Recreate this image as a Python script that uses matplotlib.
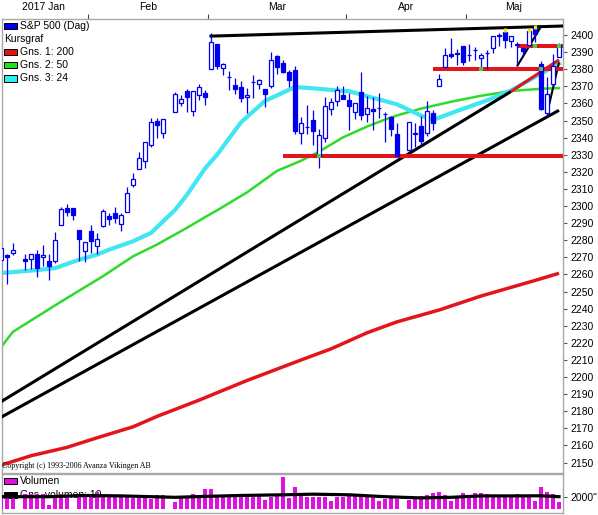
import numpy as np
import matplotlib
matplotlib.use("Agg")
import matplotlib.pyplot as plt
import matplotlib.transforms as mtransforms
from matplotlib.patches import Rectangle

plt.rcParams["font.family"] = ["Liberation Sans", "DejaVu Sans"]

# --- data: S&P 500 daily candles ---
jan_days = [11, 12, 13, 17, 18, 19, 20, 23, 24, 25, 26, 27, 30, 31]
feb_days = [1, 2, 3, 6, 7, 8, 9, 10, 13, 14, 15, 16, 17, 21, 22, 23, 24, 27, 28]
mar_days = [1, 2, 3, 6, 7, 8, 9, 10, 13, 14, 15, 16, 17, 20, 21, 22, 23, 24, 27, 28, 29, 30, 31]
apr_days = [3, 4, 5, 6, 7, 10, 11, 12, 13, 17, 18, 19, 20, 21, 24, 25, 26, 27, 28]
may_days = [1, 2, 3, 4, 5, 8, 9, 10, 11, 12, 15, 16, 17, 18, 19, 22]

opens = [
    2268.6, 2271.1, 2272.7, 2269.1, 2269.1, 2271.9, 2270.0, 2267.8, 2267.9, 2288.9, 2298.6, 2299.0, 2286.0, 2274.0,
    2285.6, 2276.7, 2288.5, 2294.3, 2295.9, 2289.6, 2296.7, 2312.3, 2321.7, 2326.1, 2335.6, 2349.6, 2343.0, 2354.9,
    2360.3, 2367.5, 2355.7, 2365.2, 2366.1,
    2380.1, 2394.8, 2380.9, 2375.2, 2370.7, 2369.8, 2363.5, 2372.5, 2371.6, 2368.6, 2370.3, 2387.7, 2383.7, 2378.2,
    2379.3, 2343.0, 2346.0, 2350.4, 2329.1, 2339.8, 2356.5, 2361.3, 2364.8,
    2362.3, 2354.8, 2366.6, 2353.8, 2356.6, 2357.2, 2353.9, 2352.2, 2342.0, 2332.6, 2342.5, 2346.8, 2342.7, 2354.7,
    2370.3, 2381.5, 2389.0, 2389.7, 2393.7,
    2388.5, 2391.1, 2386.5, 2389.8, 2392.4, 2399.9, 2401.6, 2396.8, 2394.8, 2392.4, 2394.0, 2404.6, 2383.0, 2354.7,
    2371.4, 2387.2,
]
highs = [
    2275.3, 2271.8, 2278.7, 2272.1, 2272.0, 2274.3, 2277.0, 2271.8, 2284.6, 2299.5, 2301.0, 2299.0, 2286.0, 2279.1,
    2289.1, 2284.0, 2298.3, 2296.2, 2299.4, 2295.9, 2311.1, 2319.2, 2331.6, 2337.6, 2351.3, 2351.3, 2351.2, 2366.7,
    2365.1, 2368.3, 2367.3, 2371.5, 2367.8,
    2401.0, 2394.8, 2383.9, 2378.8, 2375.1, 2373.1, 2369.1, 2376.9, 2374.4, 2368.6, 2390.0, 2388.1, 2385.7, 2379.6,
    2381.9, 2351.8, 2358.9, 2356.2, 2344.9, 2363.8, 2363.4, 2370.4, 2370.4,
    2365.9, 2360.5, 2378.4, 2364.2, 2363.8, 2366.4, 2355.2, 2352.7, 2348.3, 2349.1, 2348.4, 2352.6, 2361.4, 2356.2,
    2377.0, 2392.5, 2398.2, 2392.1, 2393.7,
    2394.5, 2392.9, 2389.8, 2391.4, 2399.3, 2401.4, 2403.9, 2399.7, 2395.7, 2392.4, 2404.1, 2405.8, 2384.9, 2375.7,
    2389.1, 2395.5,
]
lows = [
    2260.8, 2254.3, 2271.5, 2262.8, 2263.4, 2258.4, 2265.0, 2257.0, 2266.7, 2288.9, 2294.1, 2291.6, 2268.0, 2267.2,
    2272.4, 2271.7, 2287.9, 2289.2, 2290.2, 2285.4, 2296.6, 2311.1, 2321.4, 2322.2, 2334.8, 2339.6, 2339.6, 2354.9,
    2358.3, 2355.1, 2352.9, 2361.9, 2359.0,
    2380.1, 2380.2, 2376.9, 2368.0, 2365.5, 2361.0, 2354.5, 2363.0, 2368.5, 2358.2, 2368.9, 2377.2, 2377.6, 2369.7,
    2341.9, 2336.5, 2342.1, 2335.7, 2322.3, 2337.6, 2353.3, 2358.6, 2362.6,
    2344.7, 2350.7, 2350.5, 2348.9, 2344.7, 2351.5, 2337.3, 2341.2, 2329.0, 2332.5, 2334.5, 2335.1, 2340.9, 2344.5,
    2370.3, 2381.2, 2386.8, 2382.4, 2382.4,
    2384.8, 2385.6, 2379.8, 2380.4, 2389.4, 2393.6, 2392.4, 2392.8, 2381.7, 2387.2, 2393.9, 2396.1, 2356.2, 2352.7,
    2370.4, 2386.9,
]
closes = [
    2275.3, 2270.4, 2274.6, 2267.9, 2271.9, 2263.7, 2271.3, 2265.2, 2280.1, 2298.4, 2296.7, 2294.7, 2280.9, 2278.9,
    2279.6, 2280.9, 2297.4, 2292.6, 2293.1, 2294.7, 2307.9, 2316.1, 2328.3, 2337.6, 2349.3, 2347.2, 2351.2, 2365.4,
    2362.8, 2363.8, 2367.3, 2369.8, 2363.6,
    2396.0, 2381.9, 2383.1, 2375.3, 2368.4, 2363.0, 2364.9, 2372.6, 2373.5, 2365.5, 2385.3, 2381.4, 2378.3, 2373.5,
    2344.0, 2348.5, 2346.0, 2344.0, 2341.6, 2358.6, 2361.1, 2368.1, 2362.7,
    2358.8, 2360.2, 2353.0, 2357.5, 2355.5, 2357.2, 2353.8, 2344.9, 2329.0, 2349.0, 2342.2, 2338.2, 2355.8, 2348.7,
    2374.2, 2388.6, 2387.5, 2388.8, 2384.2,
    2388.3, 2391.2, 2388.1, 2389.5, 2399.3, 2399.4, 2396.9, 2399.6, 2394.4, 2390.9, 2402.3, 2400.7, 2357.0, 2365.7,
    2381.7, 2394.0,
]
volumes = [
    2000, 1900, 2000, 2450, 2450, 2450, 2450, 650, 2120, 2450, 2120, 60, 2450, 2000,
    2280, 2820, 2120, 2120, 2120, 2120, 2000, 1740, 2000, 2000, 1580, 2280, 2280, 1190, 2000, 2120, 2450, 2000, 3200,
    3200, 2280, 2000, 2000, 2000, 2120, 2120, 2000, 2120, 1470, 1900, 2280, 5160, 1740, 3530, 2120, 2000, 2000, 2000,
    1900, 1360, 1900, 2000,
    2450, 2120, 2120, 1900, 2120, 1360, 1580, 1900, 1580, 1470, 1740, 2120, 2280, 2550, 2820, 2280, 1360, 1740, 2550,
    2000, 2660, 2550, 2450, 2000, 2000, 2120, 2120, 2450, 1900, 2120, 1360, 3530, 2820, 2450, 1190,
]

# moving averages at sample days
ma200_dates = ["2017-01-11", "2017-01-18", "2017-01-26", "2017-02-02", "2017-02-10", "2017-02-16", "2017-02-27",
               "2017-03-09", "2017-03-22", "2017-03-29", "2017-04-06", "2017-04-13", "2017-04-24", "2017-05-03",
               "2017-05-16", "2017-05-22"]
ma200_vals = [2148.5, 2154.0, 2158.9, 2164.5, 2170.9, 2177.0, 2186.5, 2198.0, 2210.0, 2216.5, 2225.9, 2232.3,
              2239.2, 2247.4, 2256.5, 2260.7]
ma50_dates = ["2017-01-11", "2017-01-13", "2017-01-25", "2017-02-03", "2017-02-10", "2017-02-16", "2017-02-23",
              "2017-02-28", "2017-03-02", "2017-03-09", "2017-03-16", "2017-03-22", "2017-03-27", "2017-03-31",
              "2017-04-06", "2017-04-11", "2017-04-13", "2017-04-19", "2017-04-26", "2017-05-03", "2017-05-10",
              "2017-05-17", "2017-05-22"]
ma50_vals = [2217.5, 2226.5, 2244.1, 2259.0, 2270.6, 2277.5, 2287.3, 2293.5, 2297.5, 2308.0, 2320.6, 2326.5,
             2331.8, 2340.2, 2346.5, 2350.6, 2353.0, 2357.0, 2361.0, 2364.5, 2367.3, 2368.6, 2369.0]
ma24_dates = ["2017-01-11", "2017-01-19", "2017-01-24", "2017-01-30", "2017-02-02", "2017-02-06", "2017-02-10",
              "2017-02-15", "2017-02-21", "2017-02-23", "2017-02-28", "2017-03-02", "2017-03-08", "2017-03-14",
              "2017-03-21", "2017-03-27", "2017-03-30", "2017-04-03", "2017-04-07", "2017-04-13", "2017-04-19",
              "2017-04-21", "2017-04-27", "2017-05-04", "2017-05-10", "2017-05-17", "2017-05-22"]
ma24_vals = [2260.8, 2262.6, 2263.7, 2268.6, 2271.6, 2274.5, 2279.4, 2284.3, 2297.7, 2306.6, 2322.0, 2330.0,
             2349.0, 2361.5, 2369.6, 2368.6, 2367.6, 2367.2, 2363.3, 2359.5, 2352.9, 2350.4, 2355.6, 2361.8,
             2367.6, 2377.5, 2383.3]
volavg_dates = ["2017-01-11", "2017-01-23", "2017-01-31", "2017-02-08", "2017-02-21", "2017-02-28", "2017-03-08",
                "2017-03-17", "2017-03-24", "2017-04-03", "2017-04-11", "2017-04-19", "2017-04-26", "2017-05-03",
                "2017-05-11", "2017-05-17", "2017-05-22"]
volavg_vals = [2000, 2000, 2200, 2130, 1900, 2050, 2200, 2310, 2410, 2310, 2000, 1800, 1900, 2130, 2130, 2150, 2000]

# drawn trend lines (start date, start price, end date, end price)
top_line = ("2017-03-01", 2399.4, "2017-05-22", 2405.3)
rise_line1 = ("2017-01-11", 2185.6, "2017-05-10", 2367.0)
rise_line1_red = ("2017-05-10", 2367.0, "2017-05-22", 2385.5)
rise_line2 = ("2017-01-11", 2176.5, "2017-05-22", 2356.0)
short_line1 = ("2017-05-11", 2381.7, "2017-05-17", 2405.0)
short_line2 = ("2017-05-18", 2354.0, "2017-05-22", 2384.0)
level_lines = [("2017-03-17", 2329.4), ("2017-04-21", 2380.4), ("2017-05-11", 2393.8)]
touch_points = [("2017-03-27", 2329.4), ("2017-05-03", 2380.4), ("2017-05-17", 2380.4),
                ("2017-05-16", 2393.8), ("2017-05-22", 2393.8)]
top_touch_dates = ["2017-05-09", "2017-05-15", "2017-05-16"]

month_names = ["2017 Jan", "Feb", "Mar", "Apr", "Maj"]

# ---------------------------------------------------------------
START = "2017-01-11"


def slot(d):
    # weekday index since the first day (holidays keep their empty slot)
    return np.busday_count(START, np.array(d, dtype="datetime64[D]"))


dates = ([f"2017-01-{d:02d}" for d in jan_days] + [f"2017-02-{d:02d}" for d in feb_days]
         + [f"2017-03-{d:02d}" for d in mar_days] + [f"2017-04-{d:02d}" for d in apr_days]
         + [f"2017-05-{d:02d}" for d in may_days])
x = slot(dates).astype(float)
o = np.array(opens); h = np.array(highs); l = np.array(lows); c = np.array(closes)

BLUE = "#0000EE"
W, H = 598, 515
fig = plt.figure(figsize=(W / 100, H / 100), dpi=100)
fig.patch.set_facecolor("white")


def fx(p):
    return p / W


def fy(p):
    return 1 - p / H


ax = fig.add_axes([fx(2), fy(472.5), fx(563) - fx(2), fy(19) - fy(472.5)])
axv = fig.add_axes([fx(2), fy(513), fx(563) - fx(2), fy(473.5) - fy(513)])

xmin, xmax = 1 / 6, 562 / 6
for a in (ax, axv):
    a.set_xlim(xmin, xmax)
    for s in a.spines.values():
        s.set_color("#A8A8A8")
        s.set_linewidth(1)
    a.yaxis.tick_right()
    a.tick_params(axis="y", direction="out", length=3, width=0.8, color="#555555",
                  labelsize=7.5, pad=2.5, labelcolor="black")

ax.set_ylim(2144.2, 2409.4)
ticks = np.arange(2150, 2401, 10)
ax.set_yticks(ticks)
ax.set_yticklabels([str(t) for t in ticks])

# month boundaries at top, month names centred in each month
months = np.array([d[5:7] for d in dates])
edges, centers = [], []
for m in ["01", "02", "03", "04", "05"]:
    xs = x[months == m]
    centers.append((xs.min() + xs.max()) / 2)
    edges.append(xs.min() - 0.5)
ax.xaxis.tick_top()
ax.set_xticks(edges[1:])
ax.tick_params(axis="x", direction="out", length=3.5, width=0.8, color="#444444", labeltop=False, labelbottom=False)
trans = mtransforms.blended_transform_factory(ax.transData, fig.transFigure)
for name, cx in zip(month_names, centers):
    ax.text(cx, fy(7), name, transform=trans, ha="center", va="center", fontsize=7.5, clip_on=False)

# moving averages
ax.plot(slot(ma200_dates), ma200_vals, color="#E3141C", lw=2.5, zorder=2, solid_capstyle="butt")
ax.plot(slot(ma50_dates), ma50_vals, color="#2FDB2A", lw=1.8, zorder=2)


# trend lines
def seg(spec, color, lw):
    d0, p0, d1, p1 = spec
    ax.plot([slot(d0), slot(d1)], [p0, p1], color=color, lw=lw, zorder=3, solid_capstyle="butt")


seg(rise_line1, "black", 2.2)
seg(rise_line1_red, "#E3141C", 2.2)
seg(rise_line2, "black", 2.2)
d0, p0, d1, p1 = top_line
ax.plot([slot(d0), xmax], [p0, p1], color="black", lw=2.2, zorder=3)
seg(short_line1, "black", 1.5)
seg(short_line2, "black", 1.5)

ax.plot(slot(ma24_dates), ma24_vals, color="#40E6F2", lw=3.0, zorder=2.5)

for d, p in level_lines:
    ax.plot([slot(d), xmax], [p, p], color="#E3141C", lw=2.9, zorder=3.5, solid_capstyle="butt")

# candles
ax.vlines(x, l, h, color=BLUE, lw=0.9, zorder=4)
up = c >= o
bb = np.minimum(o, c)
bh = np.maximum(np.abs(c - o), 0.3)
ax.bar(x[up], bh[up], bottom=bb[up], width=0.72, facecolor="white", edgecolor=BLUE, linewidth=0.9, zorder=5)
ax.bar(x[~up], bh[~up], bottom=bb[~up], width=0.72, facecolor=BLUE, edgecolor=BLUE, linewidth=0.9, zorder=5)

for d in top_touch_dates:
    i = dates.index(d)
    ax.vlines(x[i], h[i] - 2.2, h[i], color="#F2E600", lw=2.2, zorder=6)

tx = [slot(d) for d, _ in touch_points]
ty = [p for _, p in touch_points]
ax.scatter(tx, ty, marker="s", s=9, color="#3FD23A", zorder=7, linewidths=0)

# legend (top left)
rows = [("S&P 500 (Dag)", BLUE, 25.8), ("Kursgraf", None, 39), ("Gns. 1: 200", "#E81010", 52),
        ("Gns. 2: 50", "#22E022", 65), ("Gns. 3: 24", "#30EEF0", 78.3)]
for label, col, yy in rows:
    if col is None:
        fig.text(fx(4), fy(yy), label, fontsize=7.5, va="center", ha="left")
    else:
        fig.patches.append(Rectangle((fx(4), fy(yy + 3.3)), fx(13), 6.6 / H, facecolor=col,
                                     edgecolor="black", linewidth=0.7, transform=fig.transFigure))
        fig.text(fx(20), fy(yy), label, fontsize=7.5, va="center", ha="left")

ax.text(fx(2), fy(466), "Copyright (c) 1993-2006 Avanza Vikingen AB", transform=fig.transFigure,
        fontsize=5.8, family=["Liberation Serif", "DejaVu Serif"], va="center", ha="left", zorder=8)

# volume panel
axv.set_ylim(-650, 5772)
axv.set_xticks([])
axv.set_yticks([2000])
axv.set_yticklabels(['2000"'])
axv.bar(x, volumes, width=0.58, color="#E010E0", linewidth=0, zorder=3)
axv.plot(slot(volavg_dates), volavg_vals, color="black", lw=2.3, zorder=4)
axv.add_patch(Rectangle((fx(4), fy(484)), fx(13), 6.5 / H, facecolor="#E010E0", edgecolor="black",
                        linewidth=0.7, transform=fig.transFigure, zorder=1))
axv.text(fx(20), fy(480.8), "Volumen", transform=fig.transFigure, fontsize=7.5, va="center", zorder=1)
axv.add_patch(Rectangle((fx(4), fy(498)), fx(13), 6.5 / H, facecolor="black", edgecolor="black",
                        linewidth=0.7, transform=fig.transFigure, zorder=1))
axv.text(fx(20), fy(494.6), "Gns. volumen: 10", transform=fig.transFigure, fontsize=7.5, va="center", zorder=1)

fig.savefig("out.png", dpi=100, facecolor="white")
